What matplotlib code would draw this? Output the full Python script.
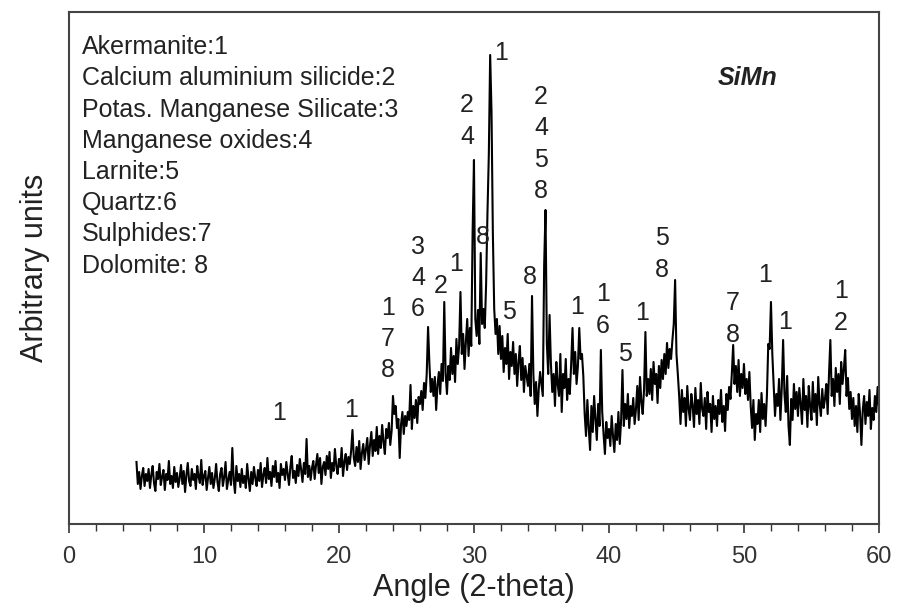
import numpy as np
import matplotlib
matplotlib.use("Agg")
import matplotlib.pyplot as plt

plt.rcParams['font.family'] = ['Liberation Sans', 'DejaVu Sans']

# XRD trace: 5.0 to 60.0 deg, step 0.1 (one row per degree)
start_angle = 5.0
step = 0.1
intensity = [
    62, 40, 52, 35, 48, 56, 38, 50, 43, 55,   # 5
    36, 49, 58, 41, 33, 52, 45, 60, 39, 47,   # 6
    54, 34, 50, 44, 63, 40, 48, 36, 57, 42,   # 7
    51, 37, 46, 59, 40, 53, 32, 49, 61, 43,   # 8
    38, 55, 44, 50, 35, 58, 47, 41, 64, 39,   # 9
    48, 53, 34, 46, 57, 40, 51, 36, 45, 60,   # 10
    42, 33, 50, 56, 38, 47, 62, 35, 44, 52,   # 11
    39, 76, 44, 31, 58, 43, 50, 37, 55, 41,   # 12
    48, 36, 60, 45, 33, 52, 40, 57, 46, 38,   # 13
    54, 43, 61, 37, 49, 56, 41, 66, 45, 52,   # 14
    38, 58, 47, 63, 42, 51, 36, 60, 49, 55,   # 15
    44, 62, 50, 39, 57, 68, 46, 53, 41, 59,   # 16
    48, 65, 54, 42, 61, 50, 85, 47, 58, 44,   # 17
    56, 63, 45, 59, 70, 51, 66, 40, 57, 62,   # 18
    49, 68, 55, 72, 46, 61, 53, 75, 58, 50,   # 19
    65, 57, 76, 48, 62, 70, 54, 67, 60, 73,   # 20
    94, 66, 58, 77, 62, 83, 55, 71, 80, 64,   # 21
    75, 86, 60, 79, 92, 68, 84, 73, 97, 70,   # 22
    88, 76, 99, 82, 70, 95, 86, 101, 79, 93,  # 23
    128, 110, 118, 96, 105, 66, 100, 112, 90, 108,   # 24
    98, 112, 104, 139, 95, 118, 106, 124, 101, 127,  # 25
    120, 133, 114, 141, 126, 150, 197, 160, 132, 145,  # 26
    128, 147, 114, 139, 152, 130, 160, 143, 222, 150,  # 27
    130, 158, 144, 176, 150, 168, 142, 185, 160, 178,  # 28
    232, 170, 190, 155, 182, 205, 168, 196, 178, 292,  # 29
    364, 205, 188, 214, 180, 271, 200, 215, 196, 240,  # 30
    311, 369, 469, 412, 290, 215, 190, 205, 170, 198,  # 31
    165, 188, 152, 176, 160, 190, 145, 172, 158, 182,  # 32
    150, 170, 138, 162, 178, 144, 166, 132, 158, 148,  # 33
    138, 160, 128, 228, 150, 120, 142, 108, 135, 152,  # 34
    140, 128, 259, 314, 180, 150, 209, 160, 132, 150,  # 35
    118, 162, 140, 128, 170, 112, 150, 136, 165, 124,  # 36
    145, 130, 160, 196, 150, 172, 140, 158, 196, 165,  # 37
    170, 148, 110, 88, 124, 96, 74, 118, 92, 128,      # 38
    105, 84, 120, 98, 174, 112, 90, 70, 102, 86,       # 39
    95, 78, 108, 88, 72, 100, 84, 112, 80, 104,        # 40
    154, 98, 120, 105, 130, 96, 118, 108, 126, 100,    # 41
    115, 138, 104, 147, 122, 110, 135, 192, 128, 145,  # 42
    130, 155, 124, 162, 140, 150, 121, 158, 136, 164,  # 43
    145, 170, 150, 181, 156, 175, 165, 184, 200, 244,  # 44
    170, 150, 128, 100, 134, 112, 126, 98, 138, 115,   # 45
    104, 130, 118, 97, 136, 110, 124, 100, 141, 115,   # 46
    108, 126, 95, 132, 112, 120, 92, 128, 105, 118,    # 47
    98, 124, 110, 134, 102, 118, 93, 130, 114, 137,    # 48
    125, 150, 179, 140, 158, 132, 164, 128, 150, 136,  # 49
    160, 130, 145, 124, 152, 118, 96, 124, 84, 110,    # 50
    100, 124, 92, 131, 105, 120, 98, 128, 180, 175,    # 51
    222, 170, 140, 108, 130, 118, 145, 104, 136, 184,  # 52
    130, 112, 148, 98, 79, 125, 104, 140, 115, 132,    # 53
    108, 136, 120, 100, 145, 114, 128, 97, 138, 118,   # 54
    104, 142, 112, 130, 99, 147, 120, 108, 135, 116,   # 55
    125, 140, 110, 150, 184, 128, 145, 118, 156, 132,  # 56
    150, 120, 162, 140, 155, 174, 128, 146, 115, 132,  # 57
    105, 126, 98, 118, 92, 130, 110, 79, 114, 128,     # 58
    100, 122, 108, 134, 95, 116, 104, 128, 112, 137,   # 59
    118,                                               # 60
]
angle = start_angle + step * np.arange(len(intensity))

# phase key
phases = ["Akermanite", "Calcium aluminium silicide", "Potas. Manganese Silicate",
          "Manganese oxides", "Larnite", "Quartz", "Sulphides", "Dolomite"]
phase_ids = ["1", "2", "3", "4", "5", "6", "7", " 8"]

# peak labels: angle, height, phase numbers (stacked top to bottom)
peak_angle = [15.56, 20.89, 23.63, 25.85, 27.56, 28.67, 29.48, 30.67, 32.0,
              34.96, 32.59, 34.15, 37.63, 39.56, 41.19, 42.44, 43.93, 49.19,
              51.56, 53.04, 57.19]
peak_height = [111, 114, 185, 246, 238, 260, 403, 287, 471,
               380, 212, 247, 217, 214, 170, 211, 270, 205,
               249, 202, 217]
peak_text = ["1", "1", "1\n7\n8", "3\n4\n6", "2", "1", "2\n4", "8", "1",
             "2\n4\n5\n8", "5", "8", "1", "1\n6", "5", "1", "5\n8", "7\n8",
             "1", "1", "1\n2"]

fig = plt.figure(figsize=(8.98, 6.08), dpi=100)
ax = fig.add_axes([0.0768, 0.1382, 0.9020, 0.8421])

ax.plot(angle, intensity, color='black', lw=1.5)

for a, h, t in zip(peak_angle, peak_height, peak_text):
    ax.text(a, h, t, ha='center', va='center', fontsize=18,
            linespacing=1.38, color='#222222')

key = "\n".join(p + ":" + n for p, n in zip(phases, phase_ids))
ax.text(0.016, 0.718, key, transform=ax.transAxes, ha='left', va='center',
        fontsize=18, linespacing=1.38, color='#222222')

ax.text(0.838, 0.871, "SiMn", transform=ax.transAxes, ha='center', va='center',
        fontsize=18, fontweight='bold', fontstyle='italic', color='#222222')

ax.set_xlim(0, 60)
ax.set_ylim(0, 512)
ax.set_xticks(np.arange(0, 61, 10))
ax.set_xticks(np.arange(0, 61, 2), minor=True)
ax.set_yticks([])
ax.tick_params(axis='x', which='major', direction='out', length=6.5, width=1.2,
               labelsize=17, pad=9, colors='#333333')
ax.tick_params(axis='x', which='minor', direction='out', length=5, width=1.0,
               colors='#333333')
for sp in ax.spines.values():
    sp.set_linewidth(1.5)
    sp.set_color('#444444')

ax.set_xlabel("Angle (2-theta)", fontsize=22, color='#222222', labelpad=4)
ax.set_ylabel("Arbitrary units", fontsize=22, color='#222222', labelpad=14)

fig.savefig("out.png", dpi=100)
